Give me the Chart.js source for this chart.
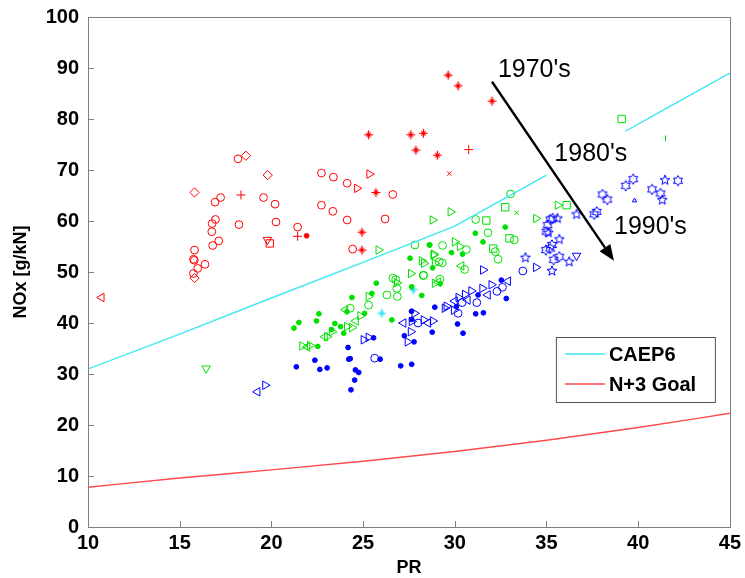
<!DOCTYPE html>
<html lang="en">
<head>
<meta charset="UTF-8">
<title>NOx vs PR</title>
<script src="https://cdn.jsdelivr.net/npm/chart.js"></script>
<style>
  html, body { margin: 0; padding: 0; background: #fff; }
  #wrap { width: 745px; height: 578px; }
</style>
</head>
<body>
<div id="wrap"><canvas id="noxChart" width="745" height="578"></canvas></div>
<script>
// engine data: [PR, NOx g/kN, marker]
const pts1970s = [
  [10.74,45.0,'<'], [15.81,65.6,'d'], [18.61,72.8,'d'], [18.18,72.2,'o'], [19.80,69.0,'d'],
  [22.73,69.4,'o'], [23.38,68.6,'o'], [24.13,67.4,'o'], [25.34,69.2,'>'], [24.67,66.4,'>'],
  [25.70,65.6,'*'], [26.62,65.2,'o'], [17.23,64.6,'o'], [16.93,63.7,'o'], [18.34,65.1,'+'],
  [19.57,64.6,'o'], [20.20,63.3,'o'], [22.73,63.1,'o'], [23.35,61.9,'o'], [24.13,60.2,'o'],
  [26.20,60.4,'o'], [16.95,60.3,'o'], [16.77,59.5,'o'], [18.23,59.3,'o'], [20.25,59.8,'o'],
  [21.43,58.8,'o'], [21.43,57.0,'+'], [21.92,57.1,'.'], [24.94,57.8,'*'], [16.75,57.9,'o'],
  [17.13,56.1,'o'], [16.80,55.2,'o'], [19.78,56.3,'v'], [19.91,55.6,'s'], [24.43,54.5,'o'],
  [24.94,54.3,'*'], [15.81,54.3,'o'], [15.75,52.5,'o'], [15.80,52.3,'o'], [16.38,51.5,'o'],
  [15.98,50.7,'o'], [15.75,49.7,'o'], [15.81,48.8,'d'], [29.64,88.6,'*'], [30.18,86.5,'*'],
  [32.03,83.5,'*'], [25.30,76.9,'*'], [27.60,76.9,'*'], [28.29,77.2,'*'], [27.88,73.9,'*'],
  [29.05,72.9,'*'], [30.76,74.0,'+'], [29.70,69.3,'x']
];
const pts1980s = [
  [16.44,31.1,'v'], [21.68,35.5,'>'], [21.96,35.3,'<'], [22.10,35.6,'>'], [22.53,35.4,'.'],
  [21.23,39.0,'.'], [21.50,40.1,'.'], [22.46,40.4,'.'], [22.59,41.8,'.'], [22.91,37.3,'<'],
  [23.04,37.3,'>'], [23.31,38.3,'>'], [23.28,38.7,'.'], [23.46,39.9,'.'], [23.77,39.3,'.'],
  [23.94,38.0,'.'], [24.12,39.3,'>'], [24.40,39.1,'>'], [24.61,40.4,'<'], [24.85,41.4,'>'],
  [25.08,41.9,'.'], [24.03,42.6,'<'], [24.12,42.2,'.'], [24.30,42.9,'o'], [25.30,43.5,'o'],
  [24.39,45.0,'.'], [25.30,45.2,'>'], [25.48,45.8,'.'], [25.72,47.8,'.'], [26.57,40.6,'.'],
  [26.30,45.5,'o'], [26.87,45.2,'o'], [26.84,46.8,'o'], [26.84,47.9,'>'], [26.62,48.8,'o'],
  [26.78,48.5,'o'], [27.65,47.1,'.'], [27.61,49.7,'>'], [28.30,49.4,'o'], [28.91,47.8,'>'],
  [28.20,45.4,'.'], [25.84,54.3,'>'], [27.83,55.3,'o'], [28.61,55.3,'.'], [28.83,53.3,'>'],
  [27.56,52.7,'.'], [28.32,51.7,'>'], [28.91,51.7,'>'], [28.20,52.2,'>'], [28.79,50.8,'.'],
  [28.28,49.3,'o'], [29.19,48.6,'o'], [29.10,48.0,'<'], [29.20,47.7,'.'], [28.64,55.3,'.'],
  [29.33,55.2,'o'], [30.00,55.9,'>'], [30.27,55.0,'>'], [29.82,53.8,'.'], [28.86,53.5,'>'],
  [29.15,52.0,'o'], [29.32,51.8,'o'], [30.42,53.5,'.'], [30.63,54.4,'o'], [30.36,51.2,'<'],
  [30.54,50.5,'o'], [31.54,55.9,'.'], [31.81,57.7,'o'], [31.12,57.6,'.'], [32.10,54.6,'s'],
  [32.21,54.0,'o'], [32.36,52.5,'o'], [32.98,56.6,'s'], [33.25,56.3,'o'], [32.75,58.8,'.'],
  [28.79,60.2,'>'], [29.77,61.8,'>'], [31.14,60.3,'o'], [31.72,60.1,'s'], [34.43,60.5,'>'],
  [32.75,62.7,'s'], [33.37,61.6,'x'], [33.04,65.3,'o'], [35.61,63.1,'>'], [36.10,63.1,'s'],
  [39.10,80.0,'s'], [41.49,76.2,'|']
];
const pts1990s = [
  [19.24,26.5,'<'], [19.66,27.8,'>'], [21.36,31.4,'.'], [22.37,32.7,'.'], [22.64,30.9,'.'],
  [23.04,31.2,'.'], [24.18,35.2,'.'], [24.22,32.9,'.'], [24.30,33.0,'.'], [24.58,30.8,'.'],
  [24.76,30.3,'.'], [24.54,28.8,'.'], [24.34,26.9,'.'], [25.03,36.7,'>'], [25.30,37.2,'>'],
  [25.57,37.1,'.'], [25.63,33.1,'o'], [25.93,32.9,'.'], [27.05,31.6,'.'], [27.65,31.9,'.'],
  [27.25,37.5,'.'], [27.43,36.3,'>'], [27.78,36.3,'.'], [27.60,38.3,'>'], [28.77,38.2,'.'],
  [27.20,40.0,'<'], [27.65,40.3,'>'], [27.65,40.7,'.'], [27.80,41.9,'>'], [28.00,40.0,'o'],
  [28.30,40.6,'>'], [28.55,40.0,'<'], [28.80,40.4,'>'], [27.64,42.3,'.'], [28.91,43.1,'.'],
  [29.45,42.9,'>'], [29.55,43.3,'>'], [29.95,42.5,'>'], [30.09,43.2,'.'], [30.18,41.9,'o'],
  [30.15,39.8,'.'], [30.45,38.0,'.'], [31.14,41.8,'.'], [31.56,42.0,'.'], [30.00,44.3,'<'],
  [30.20,45.0,'>'], [30.40,44.0,'o'], [30.55,45.6,'>'], [30.70,44.5,'<'], [30.90,46.3,'>'],
  [31.27,45.5,'.'], [31.20,44.0,'o'], [31.50,46.8,'>'], [31.80,45.5,'<'], [32.00,47.5,'>'],
  [32.30,46.2,'o'], [32.54,48.4,'.'], [32.81,44.8,'.'], [32.60,47.0,'o'], [32.90,48.2,'<'],
  [31.54,50.4,'>'], [33.71,50.2,'o'], [34.43,50.9,'>'], [33.85,52.8,'p'], [35.21,60.3,'h'],
  [35.34,60.5,'h'], [35.60,60.5,'p'], [35.06,59.2,'h'], [35.00,57.9,'h'], [35.10,57.7,'p'],
  [35.70,56.4,'p'], [34.97,54.3,'h'], [35.20,54.6,'h'], [35.30,55.3,'h'], [35.39,52.4,'h'],
  [35.70,53.0,'h'], [36.24,52.0,'p'], [35.30,50.2,'p'], [36.64,53.2,'v'], [36.64,61.3,'p'],
  [37.74,61.8,'h'], [37.60,61.3,'h'], [38.05,65.2,'h'], [38.32,64.2,'h'], [39.32,66.9,'h'],
  [39.73,68.2,'h'], [39.80,64.0,'^'], [40.76,66.2,'h'], [41.22,65.4,'h'], [41.31,64.1,'p'],
  [41.46,68.0,'p'], [42.17,67.9,'h']
];
const ptsOther = [[26.02,41.9,'*'], [27.74,46.5,'*']];

// limit lines
const caepPR  = [10, 15, 20, 25, 30, 35, 37, 39.3, 42, 45];
const caepNOx = [31, 37.8, 44.9, 51.9, 59.0, 69.0, null, 77.6, 83, 89];
const goalPR  = [10, 15, 20, 25, 30, 35, 40, 45];
const goalNOx = [7.8, 9.6, 11.2, 12.9, 14.8, 17.0, 19.5, 22.3];

const xTicks = [10, 15, 20, 25, 30, 35, 40, 45];
const decades = [
  { text: "1970's", pr: 32.35, nox: 89.6 },
  { text: "1980's", pr: 35.43, nox: 73.1 },
  { text: "1990's", pr: 38.68, nox: 58.9 }
];
const arrowFrom = [32.03, 87.3];
const arrowTo = [38.68, 52.2];
const legendItems = [
  { label: 'CAEP6', color: '#3ce8f2' },
  { label: 'N+3 Goal', color: '#ff4a4a' }
];

const FONT = '"Liberation Sans", Arial, sans-serif';

function starIcon(n, outer, inner, color) {
  const s = Math.ceil(outer * 2 + 3);
  const c = document.createElement('canvas');
  c.width = c.height = s;
  const g = c.getContext('2d');
  g.strokeStyle = color;
  g.lineWidth = 1;
  g.beginPath();
  for (let i = 0; i < n * 2; i++) {
    const r = i % 2 ? inner : outer;
    const a = -Math.PI / 2 + i * Math.PI / n;
    g.lineTo(s / 2 + r * Math.cos(a), s / 2 + r * Math.sin(a));
  }
  g.closePath();
  g.stroke();
  return c;
}

// matlab style '*' at small size: a plus with short diagonals
function asteriskIcon(color) {
  const s = 11, m = s / 2;
  const c = document.createElement('canvas');
  c.width = c.height = s;
  const g = c.getContext('2d');
  g.strokeStyle = color;
  g.lineWidth = 1.2;
  g.beginPath();
  g.moveTo(m, m - 4.5); g.lineTo(m, m + 4.5);
  g.moveTo(m - 4.5, m); g.lineTo(m + 4.5, m);
  g.moveTo(m - 2.2, m - 2.2); g.lineTo(m + 2.2, m + 2.2);
  g.moveTo(m - 2.2, m + 2.2); g.lineTo(m + 2.2, m - 2.2);
  g.stroke();
  return c;
}

function markerOf(code, color) {
  switch (code) {
    case 'o': return { style: 'circle', r: 3.9, rot: 0, fill: false };
    case 'd': return { style: 'rectRot', r: 4.6, rot: 0, fill: false };
    case '+': return { style: 'cross', r: 4.5, rot: 0, fill: false };
    case '*': return { style: asteriskIcon(color), r: 5, rot: 0, fill: false };
    case '.': return { style: 'circle', r: 2.4, rot: 0, fill: true };
    case '>': return { style: 'triangle', r: 4.9, rot: 90, fill: false };
    case '<': return { style: 'triangle', r: 4.9, rot: -90, fill: false };
    case 'v': return { style: 'triangle', r: 4.9, rot: 180, fill: false };
    case '^': return { style: 'triangle', r: 2.5, rot: 0, fill: false };
    case 's': return { style: 'rect', r: 5.2, rot: 0, fill: false };
    case 'x': return { style: 'crossRot', r: 3, rot: 0, fill: false };
    case '|': return { style: 'line', r: 3, rot: 90, fill: false };
    case 'h': return { style: starIcon(6, 5.2, 3, color), r: 5, rot: 0, fill: false };
    case 'p': return { style: starIcon(5, 5.2, 2.2, color), r: 5, rot: 0, fill: false };
  }
}

function scatterSet(label, pts, color) {
  const m = pts.map(p => markerOf(p[2], color));
  return {
    type: 'scatter',
    label: label,
    data: pts.map(p => ({ x: p[0], y: p[1] })),
    pointStyle: m.map(s => s.style),
    pointRadius: m.map(s => s.r),
    pointRotation: m.map(s => s.rot),
    pointBackgroundColor: m.map(s => s.fill ? color : 'rgba(0,0,0,0)'),
    pointBorderColor: color,
    pointBorderWidth: 1,
    showLine: false
  };
}

function lineSet(label, xs, ys, color, tension) {
  return {
    type: 'line',
    label: label,
    data: xs.map((v, i) => ({ x: v, y: ys[i] })),
    borderColor: color,
    borderWidth: 1.4,
    pointRadius: 0,
    fill: false,
    spanGaps: false,
    tension: tension,
    cubicInterpolationMode: tension ? 'monotone' : 'default'
  };
}

const decor = {
  id: 'decor',
  afterDatasetsDraw(chart) {
    const { ctx, chartArea: a, scales: { x, y } } = chart;
    ctx.save();

    // axes box and inward ticks
    ctx.strokeStyle = '#808080';
    ctx.lineWidth = 1;
    ctx.strokeRect(Math.round(a.left) + 0.5, Math.round(a.top) + 0.5,
      Math.round(a.right - a.left), Math.round(a.bottom - a.top));
    ctx.beginPath();
    x.ticks.forEach(t => {
      const p = Math.round(x.getPixelForValue(t.value)) + 0.5;
      ctx.moveTo(p, a.bottom);
      ctx.lineTo(p, a.bottom - 6);
    });
    y.ticks.forEach(t => {
      const p = Math.round(y.getPixelForValue(t.value)) + 0.5;
      ctx.moveTo(a.left, p);
      ctx.lineTo(a.left + 6, p);
    });
    ctx.stroke();

    // decade arrow
    const x0 = x.getPixelForValue(arrowFrom[0]), y0 = y.getPixelForValue(arrowFrom[1]);
    const x1 = x.getPixelForValue(arrowTo[0]), y1 = y.getPixelForValue(arrowTo[1]);
    const ang = Math.atan2(y1 - y0, x1 - x0);
    const head = 16, half = 6.5;
    const bx = x1 - head * Math.cos(ang), by = y1 - head * Math.sin(ang);
    ctx.strokeStyle = '#000';
    ctx.fillStyle = '#000';
    ctx.lineWidth = 2.4;
    ctx.beginPath();
    ctx.moveTo(x0, y0);
    ctx.lineTo(bx, by);
    ctx.stroke();
    ctx.beginPath();
    ctx.moveTo(x1, y1);
    ctx.lineTo(bx + half * Math.sin(ang), by - half * Math.cos(ang));
    ctx.lineTo(bx - half * Math.sin(ang), by + half * Math.cos(ang));
    ctx.closePath();
    ctx.fill();

    // decade labels
    ctx.font = '25px ' + FONT;
    ctx.textAlign = 'left';
    ctx.textBaseline = 'middle';
    decades.forEach(d => {
      ctx.fillText(d.text, x.getPixelForValue(d.pr), y.getPixelForValue(d.nox));
    });

    // legend box
    const lx = a.right - 174, ly = a.top + 320, lw = 159, lh = 65;
    ctx.fillStyle = '#fff';
    ctx.fillRect(lx, ly, lw, lh);
    ctx.strokeStyle = '#555';
    ctx.lineWidth = 1;
    ctx.strokeRect(lx + 0.5, ly + 0.5, lw, lh);
    ctx.font = 'bold 20px ' + FONT;
    legendItems.forEach((it, i) => {
      const yy = ly + 17 + i * 30;
      ctx.strokeStyle = it.color;
      ctx.lineWidth = 1.4;
      ctx.beginPath();
      ctx.moveTo(lx + 9, yy);
      ctx.lineTo(lx + 49, yy);
      ctx.stroke();
      ctx.fillStyle = '#000';
      ctx.fillText(it.label, lx + 53, yy + 1);
    });
    ctx.restore();
  }
};

new Chart(document.getElementById('noxChart'), {
  type: 'scatter',
  data: {
    datasets: [
      lineSet('CAEP6', caepPR, caepNOx, legendItems[0].color, 0),
      lineSet('N+3 Goal', goalPR, goalNOx, legendItems[1].color, 0.4),
      scatterSet('1970s', pts1970s, '#ff0000'),
      scatterSet('1980s', pts1980s, '#00e000'),
      scatterSet('1990s', pts1990s, '#0000ff'),
      scatterSet('other', ptsOther, '#33e6f0')
    ]
  },
  options: {
    responsive: false,
    animation: false,
    events: [],
    layout: { padding: { top: 17, right: 12, left: 0, bottom: 0 } },
    plugins: { legend: { display: false }, tooltip: { enabled: false } },
    scales: {
      x: {
        type: 'linear',
        min: 10, max: 45,
        afterBuildTicks: s => { s.ticks = xTicks.map(v => ({ value: v })); },
        afterFit: s => { s.height = 51; },
        grid: { display: false, tickLength: 0 },
        border: { display: false },
        ticks: { color: '#000', padding: 4, maxRotation: 0,
          font: { family: FONT, size: 20, weight: 'bold' } },
        title: { display: true, text: 'PR', color: '#000', padding: { top: 0, bottom: 1 },
          font: { family: FONT, size: 18, weight: 'bold', lineHeight: 1 } }
      },
      y: {
        min: 0, max: 100,
        afterFit: s => { s.width = 88; s.paddingTop = 0; s.paddingBottom = 0; },
        grid: { display: false, tickLength: 0 },
        border: { display: false },
        ticks: { stepSize: 10, color: '#000', padding: 9,
          font: { family: FONT, size: 20, weight: 'bold' } },
        title: { display: true, text: 'NOx [g/kN]', color: '#000', padding: { top: 12, bottom: 0 },
          font: { family: FONT, size: 18, weight: 'bold', lineHeight: 1 } }
      }
    }
  },
  plugins: [decor]
});
</script>
</body>
</html>
